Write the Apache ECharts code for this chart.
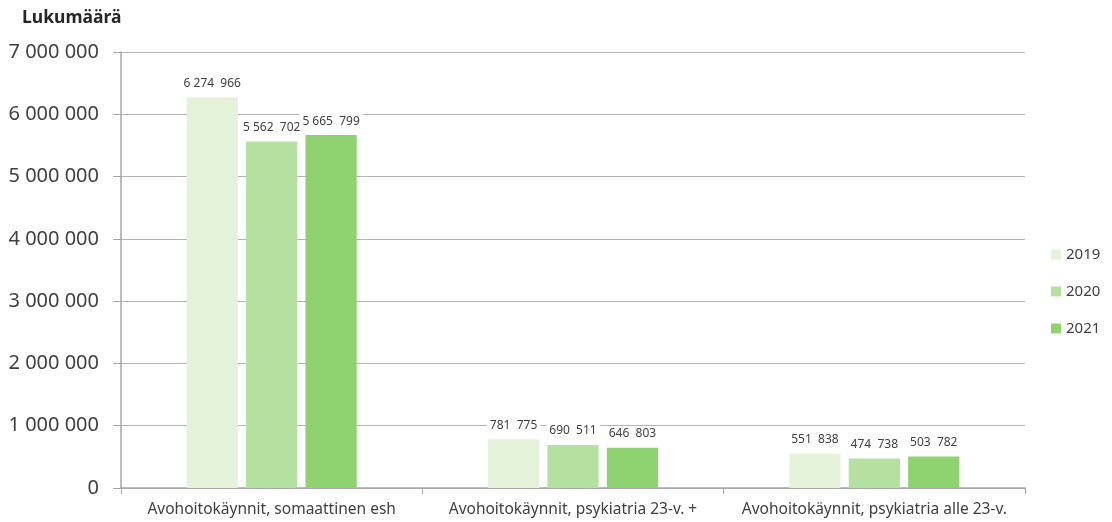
<!DOCTYPE html>
<html>
<head>
<meta charset="utf-8">
<script src="https://cdn.jsdelivr.net/npm/echarts@6/dist/echarts.min.js"></script>
<style>
html,body{margin:0;padding:0;background:#fff;}
#chart{width:1112px;height:522px;}
</style>
</head>
<body>
<div id="chart"></div>
<script>
// data
var categories = ['Avohoitokäynnit, somaattinen esh', 'Avohoitokäynnit, psykiatria 23-v. +', 'Avohoitokäynnit, psykiatria alle 23-v.'];
var years = ['2019', '2020', '2021'];
var v2019 = [6274966, 781775, 551838];
var v2020 = [5562702, 690511, 474738];
var v2021 = [5665799, 646803, 503782];
var colors = ['#e3f2d9', '#b5e1a0', '#8fd270'];

function fmt(n) {
	return String(n).replace(/\B(?=(\d{3})+(?!\d))/g, ' ');
}
function fmtLabel(n) {
	// viimeinen ryhmä leveämmällä välillä kuten alkuperäisessä
	var s = fmt(n);
	var i = s.lastIndexOf(' ');
	return s.substring(0, i) + '  ' + s.substring(i + 1);
}

var myChart = echarts.init(document.getElementById('chart'));
var values = [v2019, v2020, v2021];
var series = [];
for (var i = 0; i < years.length; i++) {
	series.push({
		name: years[i],
		type: 'bar',
		data: values[i],
		barWidth: '17%',
		barGap: '16%',
		itemStyle: {color: colors[i]},
		label: {
			show: true,
			position: 'top',
			distance: 7,
			color: '#404040',
			fontSize: 12,
			fontFamily: 'Noto Sans',
			backgroundColor: '#fff',
			padding: [1, 3],
			formatter: function(p) { return fmtLabel(p.value); }
		}
	});
}

var option = {
	animation: false,
	title: {
		text: 'Lukumäärä',
		left: 17,
		top: 4,
		textStyle: {fontSize: 17.5, fontWeight: 'bold', color: '#262626', fontFamily: 'Noto Sans'}
	},
	legend: {
		orient: 'vertical',
		left: 1046,
		top: 242,
		itemWidth: 10,
		itemHeight: 10,
		itemGap: 22,
		icon: 'rect',
		textStyle: {fontSize: 15, color: '#404040', fontFamily: 'Noto Sans'},
		data: years
	},
	grid: {left: 121, right: 87, top: 52, bottom: 34},
	xAxis: {
		type: 'category',
		data: categories,
		axisLine: {lineStyle: {color: '#a6a6a6', width: 1.5}},
		axisTick: {show: true, interval: 0, length: 6, lineStyle: {color: '#a6a6a6'}},
		axisLabel: {interval: 0, fontSize: 15.5, color: '#404040', fontFamily: 'Noto Sans', margin: 14}
	},
	yAxis: {
		type: 'value',
		min: 0,
		max: 7000000,
		interval: 1000000,
		axisLine: {show: true, lineStyle: {color: '#a6a6a6', width: 1.5}},
		axisTick: {show: true, length: 8, lineStyle: {color: '#a6a6a6'}},
		splitLine: {lineStyle: {color: '#b4b4b4', width: 1.2}},
		axisLabel: {
			fontSize: 20,
			color: '#404040',
			fontFamily: 'Noto Sans',
			margin: 22,
			formatter: function(v) { return fmt(v); }
		}
	},
	series: series
};
myChart.setOption(option);
</script>
</body>
</html>
